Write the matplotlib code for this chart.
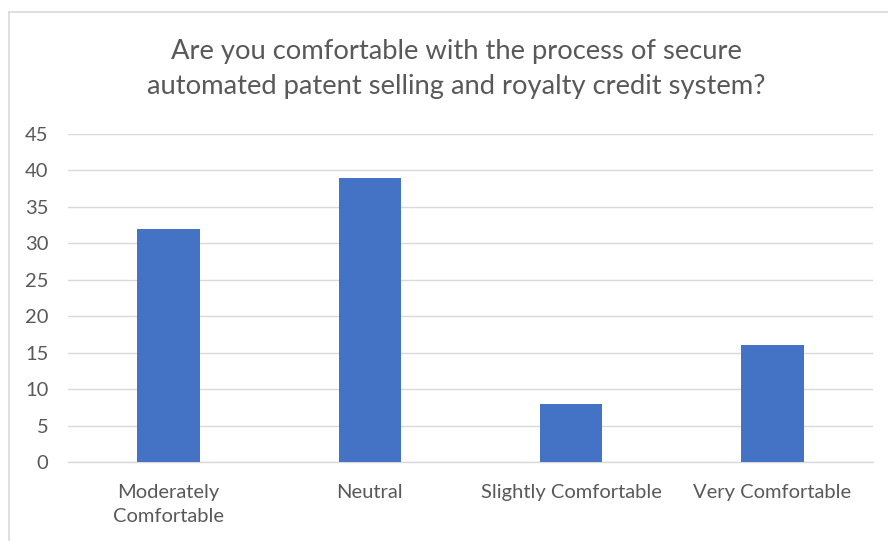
import matplotlib
matplotlib.use("Agg")
import matplotlib.pyplot as plt
from matplotlib.lines import Line2D

categories = ["Moderately\nComfortable", "Neutral", "Slightly Comfortable", "Very Comfortable"]
responses = [32, 39, 8, 16]
y_ticks = [0, 5, 10, 15, 20, 25, 30, 35, 40, 45]

title = ("Are you comfortable with the process of secure\n"
         "automated patent selling and royalty credit system?")

text_color = "#595959"
grid_color = "#D9D9D9"
bar_color = "#4472C4"

plt.rcParams["font.family"] = ["Lato", "DejaVu Sans"]

fig = plt.figure(figsize=(8.88, 5.41), dpi=100)
ax = fig.add_axes([68 / 888, 1 - 462 / 541, 805 / 888, 328 / 541])

x = range(len(categories))
ax.bar(x, responses, width=0.31, color=bar_color, zorder=3)

ax.set_xlim(-0.5, len(categories) - 0.5)
ax.set_ylim(0, 45)
ax.set_yticks(y_ticks)
ax.set_xticks(list(x))
ax.set_xticklabels(categories, linespacing=1.5)

ax.yaxis.grid(True, color=grid_color, linewidth=1.0, zorder=0)
for side in ["top", "right", "left"]:
    ax.spines[side].set_visible(False)
ax.spines["bottom"].set_color(grid_color)
ax.spines["bottom"].set_linewidth(1.0)
ax.tick_params(axis="both", length=0, colors=text_color, labelsize=14.5)
ax.tick_params(axis="y", pad=14)
ax.tick_params(axis="x", pad=16)

fig.text(456 / 888, 1 - 69 / 541, title, ha="center", va="center",
         fontsize=19.7, color=text_color, linespacing=1.5)

# chart area border (top and left edges)
fig.add_artist(Line2D([9 / 888, 1], [1 - 12 / 541, 1 - 12 / 541],
                      transform=fig.transFigure, color=grid_color, linewidth=1.2))
fig.add_artist(Line2D([9 / 888, 9 / 888], [0, 1 - 12 / 541],
                      transform=fig.transFigure, color=grid_color, linewidth=1.2))

fig.savefig("out.png", dpi=100, facecolor="white")
